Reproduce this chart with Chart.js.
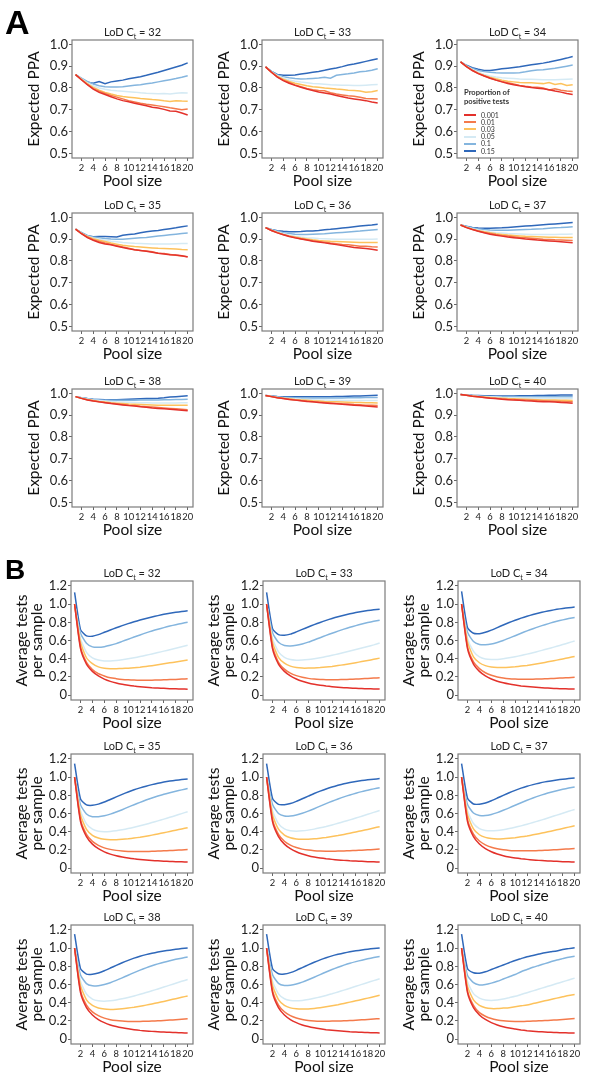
<!DOCTYPE html>
<html><head><meta charset="utf-8">
<script src="https://cdn.jsdelivr.net/npm/chart.js@4.4.0/dist/chart.umd.min.js"></script>
<style>
body{margin:0;background:#fff;width:600px;height:1086px;position:relative;overflow:hidden;font-family:Lato,sans-serif}
.panel{position:absolute}
.ttl{position:absolute;font-size:11px;color:#222;white-space:nowrap;transform:translate(-50%,-50%);line-height:1}
.ttl sub{font-size:7px;vertical-align:-3px;line-height:0}
.big{position:absolute;font-family:'Liberation Sans',Arial,sans-serif;font-weight:bold;color:#000;line-height:1}
.lg{position:absolute;font-size:7px;color:#333;white-space:nowrap;line-height:1}
.lgt{position:absolute;font-size:7.6px;font-weight:bold;color:#333;white-space:nowrap;line-height:9px}
.sw{position:absolute;height:2px}
</style></head><body>
<script>
const poolSizes = [1,2,3,4,5,6,7,8,9,10,11,12,13,14,15,16,17,18,19,20];
const proportions = ['0.001','0.01','0.03','0.05','0.1','0.15'];
const seriesColors = ['#e3312b','#f47a4b','#fdc25c','#d5eaf4','#84b5de','#2f68ba'];
const lodValues = [32,33,34,35,36,37,38,39,40];
const poolTicks = [2,4,6,8,10,12,14,16,18,20];
const ppaTicks = [0.5,0.6,0.7,0.8,0.9,1.0];
const ppaTickLabels = ['0.5','0.6','0.7','0.8','0.9','1.0'];
const testsTicks = [0,0.2,0.4,0.6,0.8,1.0,1.2];
const testsTickLabels = ['0','0.2','0.4','0.6','0.8','1.0','1.2'];

// Expected PPA, series order = proportions
const ppaCt32 = [
 [0.861,0.838,0.815,0.795,0.780,0.770,0.760,0.750,0.742,0.737,0.730,0.724,0.719,0.712,0.708,0.702,0.695,0.693,0.685,0.676],
 [0.861,0.838,0.816,0.797,0.785,0.775,0.766,0.758,0.750,0.742,0.736,0.730,0.725,0.722,0.718,0.714,0.709,0.705,0.700,0.704],
 [0.861,0.840,0.820,0.803,0.790,0.780,0.772,0.766,0.761,0.758,0.755,0.752,0.750,0.747,0.745,0.741,0.738,0.742,0.740,0.739],
 [0.861,0.842,0.824,0.810,0.800,0.794,0.790,0.787,0.785,0.783,0.781,0.778,0.776,0.775,0.774,0.775,0.773,0.776,0.778,0.777],
 [0.861,0.845,0.830,0.818,0.810,0.806,0.804,0.804,0.806,0.809,0.812,0.815,0.819,0.823,0.828,0.833,0.838,0.843,0.849,0.856],
 [0.861,0.843,0.826,0.822,0.830,0.820,0.828,0.832,0.836,0.842,0.847,0.852,0.858,0.865,0.872,0.880,0.888,0.896,0.904,0.915]];
const ppaCt33 = [
 [0.897,0.872,0.850,0.834,0.822,0.812,0.803,0.795,0.788,0.782,0.777,0.772,0.766,0.760,0.754,0.750,0.746,0.742,0.736,0.731],
 [0.897,0.872,0.851,0.836,0.825,0.814,0.806,0.798,0.792,0.788,0.787,0.778,0.772,0.768,0.764,0.762,0.758,0.752,0.751,0.750],
 [0.897,0.873,0.853,0.840,0.830,0.822,0.816,0.810,0.806,0.803,0.800,0.798,0.795,0.793,0.790,0.788,0.786,0.780,0.783,0.788],
 [0.897,0.874,0.856,0.845,0.837,0.831,0.827,0.824,0.821,0.819,0.817,0.815,0.814,0.813,0.812,0.811,0.811,0.813,0.815,0.816],
 [0.897,0.876,0.860,0.852,0.847,0.843,0.841,0.842,0.844,0.846,0.849,0.845,0.858,0.862,0.865,0.869,0.874,0.877,0.881,0.888],
 [0.897,0.876,0.862,0.858,0.858,0.860,0.864,0.868,0.872,0.876,0.881,0.887,0.892,0.898,0.905,0.910,0.916,0.922,0.928,0.934]];
const ppaCt34 = [
 [0.920,0.898,0.880,0.866,0.855,0.845,0.836,0.828,0.821,0.815,0.810,0.806,0.802,0.799,0.796,0.792,0.786,0.781,0.775,0.770],
 [0.920,0.898,0.881,0.867,0.856,0.846,0.837,0.830,0.824,0.818,0.812,0.808,0.805,0.803,0.800,0.791,0.796,0.790,0.786,0.784],
 [0.920,0.899,0.882,0.868,0.857,0.849,0.842,0.836,0.831,0.828,0.825,0.824,0.824,0.822,0.820,0.825,0.816,0.820,0.811,0.815],
 [0.920,0.900,0.885,0.872,0.862,0.855,0.850,0.847,0.845,0.843,0.841,0.840,0.840,0.839,0.838,0.838,0.838,0.839,0.840,0.841],
 [0.920,0.902,0.889,0.880,0.875,0.872,0.870,0.869,0.869,0.869,0.870,0.874,0.879,0.882,0.884,0.887,0.890,0.895,0.900,0.905],
 [0.920,0.904,0.893,0.886,0.880,0.880,0.884,0.888,0.891,0.894,0.897,0.902,0.906,0.910,0.914,0.919,0.925,0.931,0.937,0.944]];
const ppaCt35 = [
 [0.946,0.925,0.907,0.895,0.885,0.878,0.874,0.868,0.862,0.856,0.851,0.848,0.845,0.840,0.835,0.832,0.829,0.827,0.824,0.818],
 [0.946,0.926,0.910,0.898,0.889,0.882,0.876,0.870,0.864,0.859,0.852,0.848,0.846,0.842,0.836,0.834,0.830,0.826,0.823,0.820],
 [0.946,0.927,0.912,0.902,0.895,0.889,0.882,0.877,0.872,0.869,0.866,0.864,0.862,0.860,0.858,0.857,0.856,0.855,0.853,0.852],
 [0.946,0.928,0.914,0.906,0.900,0.895,0.891,0.888,0.885,0.883,0.881,0.880,0.879,0.878,0.878,0.878,0.878,0.879,0.880,0.880],
 [0.946,0.930,0.917,0.910,0.906,0.903,0.901,0.900,0.900,0.902,0.904,0.906,0.908,0.911,0.914,0.917,0.920,0.923,0.926,0.928],
 [0.946,0.930,0.916,0.911,0.912,0.912,0.911,0.910,0.918,0.921,0.924,0.929,0.934,0.937,0.940,0.944,0.948,0.952,0.957,0.961]];
const ppaCt36 = [
 [0.953,0.940,0.929,0.920,0.912,0.906,0.901,0.896,0.891,0.887,0.883,0.879,0.875,0.871,0.866,0.862,0.860,0.857,0.854,0.849],
 [0.953,0.940,0.930,0.921,0.914,0.908,0.902,0.897,0.893,0.889,0.886,0.882,0.879,0.876,0.874,0.871,0.868,0.868,0.865,0.864],
 [0.953,0.941,0.931,0.922,0.915,0.910,0.905,0.901,0.897,0.894,0.892,0.890,0.889,0.888,0.887,0.886,0.885,0.885,0.885,0.885],
 [0.953,0.942,0.933,0.925,0.919,0.914,0.910,0.907,0.905,0.903,0.902,0.901,0.900,0.900,0.900,0.900,0.900,0.900,0.900,0.901],
 [0.953,0.944,0.936,0.930,0.926,0.923,0.922,0.922,0.923,0.924,0.925,0.927,0.929,0.931,0.933,0.935,0.937,0.940,0.942,0.944],
 [0.953,0.945,0.939,0.936,0.934,0.934,0.935,0.937,0.938,0.940,0.943,0.945,0.948,0.951,0.954,0.957,0.960,0.963,0.965,0.968]];
const ppaCt37 = [
 [0.965,0.953,0.944,0.936,0.929,0.923,0.918,0.914,0.910,0.907,0.904,0.901,0.899,0.896,0.894,0.892,0.890,0.888,0.886,0.884],
 [0.965,0.954,0.945,0.937,0.931,0.926,0.921,0.917,0.914,0.911,0.908,0.906,0.904,0.902,0.900,0.899,0.897,0.896,0.895,0.894],
 [0.965,0.955,0.946,0.939,0.934,0.929,0.925,0.922,0.919,0.917,0.915,0.913,0.912,0.911,0.910,0.909,0.909,0.908,0.908,0.908],
 [0.965,0.956,0.948,0.942,0.937,0.933,0.930,0.928,0.926,0.925,0.924,0.923,0.922,0.922,0.922,0.922,0.922,0.923,0.923,0.924],
 [0.965,0.958,0.952,0.947,0.944,0.942,0.941,0.941,0.941,0.942,0.943,0.944,0.945,0.947,0.948,0.950,0.952,0.953,0.955,0.957],
 [0.965,0.959,0.954,0.951,0.950,0.950,0.951,0.952,0.954,0.956,0.958,0.960,0.962,0.964,0.966,0.968,0.970,0.972,0.974,0.976]];
const ppaCt38 = [
 [0.985,0.977,0.970,0.965,0.961,0.957,0.953,0.950,0.947,0.944,0.942,0.939,0.936,0.933,0.931,0.929,0.927,0.925,0.923,0.920],
 [0.985,0.977,0.971,0.966,0.962,0.958,0.955,0.952,0.949,0.946,0.944,0.941,0.939,0.937,0.935,0.933,0.931,0.929,0.927,0.925],
 [0.985,0.978,0.972,0.967,0.963,0.960,0.957,0.955,0.953,0.951,0.950,0.949,0.948,0.947,0.946,0.946,0.945,0.945,0.945,0.945],
 [0.985,0.979,0.974,0.970,0.967,0.965,0.963,0.961,0.960,0.959,0.958,0.957,0.957,0.956,0.956,0.956,0.956,0.956,0.957,0.957],
 [0.985,0.980,0.976,0.973,0.971,0.969,0.968,0.968,0.968,0.968,0.968,0.969,0.969,0.970,0.970,0.971,0.971,0.972,0.972,0.973],
 [0.985,0.980,0.976,0.973,0.972,0.971,0.971,0.971,0.972,0.973,0.974,0.975,0.976,0.977,0.978,0.980,0.983,0.985,0.987,0.989]];
const ppaCt39 = [
 [0.990,0.985,0.980,0.976,0.972,0.969,0.966,0.963,0.961,0.958,0.956,0.954,0.952,0.950,0.948,0.946,0.944,0.942,0.940,0.938],
 [0.990,0.985,0.980,0.976,0.973,0.970,0.967,0.965,0.962,0.960,0.958,0.956,0.954,0.952,0.951,0.949,0.948,0.946,0.945,0.944],
 [0.990,0.986,0.981,0.978,0.975,0.972,0.970,0.968,0.966,0.965,0.963,0.962,0.961,0.960,0.959,0.958,0.958,0.957,0.957,0.956],
 [0.990,0.986,0.982,0.979,0.977,0.975,0.973,0.972,0.971,0.970,0.969,0.968,0.968,0.967,0.967,0.967,0.967,0.967,0.967,0.967],
 [0.990,0.987,0.984,0.982,0.981,0.980,0.979,0.979,0.979,0.979,0.979,0.979,0.979,0.979,0.980,0.980,0.980,0.981,0.981,0.981],
 [0.990,0.988,0.986,0.985,0.984,0.984,0.984,0.984,0.984,0.984,0.985,0.985,0.986,0.986,0.987,0.988,0.988,0.989,0.990,0.991]];
const ppaCt40 = [
 [0.995,0.991,0.987,0.984,0.981,0.978,0.976,0.973,0.971,0.969,0.968,0.966,0.965,0.963,0.962,0.961,0.960,0.958,0.957,0.955],
 [0.995,0.991,0.987,0.984,0.981,0.979,0.977,0.975,0.973,0.972,0.970,0.969,0.968,0.967,0.966,0.965,0.964,0.963,0.962,0.961],
 [0.995,0.991,0.988,0.985,0.983,0.981,0.979,0.978,0.976,0.975,0.974,0.973,0.972,0.971,0.970,0.969,0.969,0.968,0.968,0.967],
 [0.995,0.992,0.989,0.987,0.985,0.984,0.983,0.981,0.980,0.980,0.979,0.978,0.978,0.977,0.977,0.977,0.976,0.976,0.976,0.976],
 [0.995,0.992,0.990,0.988,0.987,0.986,0.985,0.985,0.984,0.984,0.984,0.984,0.984,0.984,0.984,0.984,0.985,0.985,0.985,0.985],
 [0.995,0.993,0.991,0.990,0.989,0.989,0.988,0.988,0.988,0.988,0.989,0.989,0.989,0.990,0.990,0.991,0.991,0.992,0.992,0.993]];

// Average tests per sample, series order = proportions
const testsCt32 = [
 [1.00,0.51,0.34,0.26,0.21,0.175,0.15,0.132,0.118,0.107,0.098,0.091,0.085,0.080,0.077,0.073,0.070,0.068,0.066,0.064],
 [1.00,0.53,0.36,0.28,0.235,0.21,0.19,0.18,0.172,0.167,0.164,0.162,0.162,0.163,0.165,0.167,0.17,0.172,0.175,0.178],
 [1.00,0.58,0.41,0.345,0.31,0.295,0.29,0.29,0.292,0.295,0.30,0.306,0.314,0.323,0.333,0.343,0.354,0.364,0.375,0.386],
 [1.00,0.62,0.47,0.41,0.385,0.375,0.375,0.38,0.388,0.398,0.41,0.423,0.437,0.452,0.467,0.483,0.499,0.515,0.532,0.548],
 [1.00,0.68,0.57,0.53,0.525,0.532,0.547,0.566,0.59,0.614,0.638,0.661,0.684,0.705,0.724,0.742,0.759,0.774,0.788,0.801],
 [1.13,0.72,0.65,0.648,0.665,0.69,0.715,0.74,0.764,0.786,0.806,0.825,0.843,0.859,0.874,0.888,0.899,0.91,0.919,0.927]];
const testsCt33 = [
 [1.00,0.51,0.34,0.26,0.21,0.176,0.151,0.133,0.119,0.108,0.099,0.092,0.086,0.081,0.077,0.074,0.071,0.069,0.067,0.065],
 [1.00,0.53,0.36,0.285,0.24,0.213,0.195,0.183,0.175,0.171,0.169,0.168,0.169,0.171,0.173,0.176,0.179,0.183,0.186,0.189],
 [1.00,0.58,0.415,0.35,0.318,0.302,0.296,0.296,0.298,0.302,0.308,0.315,0.324,0.334,0.345,0.356,0.368,0.38,0.393,0.406],
 [1.00,0.62,0.475,0.415,0.39,0.383,0.384,0.39,0.399,0.41,0.423,0.437,0.452,0.468,0.484,0.50,0.517,0.534,0.552,0.572],
 [1.00,0.685,0.58,0.545,0.54,0.547,0.562,0.582,0.606,0.631,0.656,0.68,0.703,0.725,0.745,0.764,0.781,0.797,0.811,0.824],
 [1.13,0.73,0.665,0.658,0.67,0.695,0.722,0.749,0.775,0.799,0.822,0.843,0.862,0.879,0.894,0.908,0.92,0.93,0.938,0.945]];
const testsCt34 = [
 [1.00,0.51,0.34,0.26,0.21,0.176,0.152,0.134,0.12,0.109,0.10,0.093,0.087,0.082,0.078,0.074,0.071,0.069,0.067,0.065],
 [1.00,0.53,0.365,0.29,0.245,0.217,0.199,0.187,0.179,0.175,0.173,0.173,0.174,0.176,0.178,0.181,0.184,0.188,0.191,0.195],
 [1.00,0.585,0.42,0.355,0.323,0.308,0.303,0.303,0.306,0.311,0.318,0.326,0.336,0.347,0.359,0.371,0.384,0.397,0.411,0.425],
 [1.00,0.625,0.48,0.42,0.396,0.39,0.392,0.399,0.409,0.421,0.435,0.45,0.466,0.483,0.50,0.518,0.536,0.555,0.575,0.595],
 [1.00,0.69,0.59,0.557,0.553,0.561,0.578,0.60,0.626,0.653,0.68,0.706,0.73,0.753,0.774,0.794,0.811,0.827,0.841,0.854],
 [1.14,0.74,0.68,0.675,0.69,0.714,0.742,0.771,0.798,0.823,0.846,0.867,0.886,0.903,0.918,0.931,0.943,0.953,0.961,0.968]];
const testsCt35 = [
 [1.00,0.51,0.345,0.263,0.213,0.178,0.153,0.135,0.121,0.11,0.101,0.094,0.088,0.083,0.079,0.075,0.072,0.07,0.068,0.066],
 [1.00,0.535,0.37,0.293,0.25,0.222,0.205,0.194,0.187,0.183,0.181,0.181,0.182,0.184,0.186,0.189,0.192,0.195,0.199,0.203],
 [1.00,0.585,0.425,0.36,0.33,0.316,0.311,0.312,0.316,0.322,0.33,0.339,0.35,0.362,0.375,0.388,0.402,0.416,0.43,0.444],
 [1.00,0.63,0.485,0.427,0.405,0.40,0.403,0.41,0.421,0.434,0.449,0.465,0.482,0.50,0.519,0.538,0.558,0.578,0.599,0.62],
 [1.00,0.695,0.595,0.565,0.565,0.575,0.593,0.616,0.642,0.67,0.697,0.723,0.748,0.771,0.792,0.812,0.829,0.845,0.86,0.875],
 [1.15,0.76,0.695,0.69,0.703,0.726,0.754,0.783,0.811,0.837,0.861,0.882,0.901,0.918,0.933,0.946,0.957,0.966,0.973,0.979]];
const testsCt36 = [
 [1.00,0.51,0.345,0.263,0.213,0.179,0.154,0.136,0.122,0.111,0.102,0.095,0.089,0.084,0.079,0.076,0.073,0.07,0.068,0.066],
 [1.00,0.535,0.37,0.295,0.252,0.225,0.208,0.197,0.19,0.186,0.185,0.185,0.186,0.188,0.19,0.193,0.196,0.2,0.204,0.208],
 [1.00,0.585,0.427,0.363,0.333,0.32,0.316,0.317,0.321,0.328,0.336,0.346,0.357,0.37,0.383,0.397,0.411,0.425,0.44,0.455],
 [1.00,0.63,0.488,0.43,0.41,0.405,0.409,0.417,0.428,0.442,0.457,0.474,0.492,0.511,0.53,0.55,0.57,0.591,0.612,0.633],
 [1.00,0.70,0.60,0.572,0.572,0.583,0.602,0.626,0.653,0.681,0.709,0.735,0.76,0.783,0.804,0.823,0.841,0.856,0.871,0.884],
 [1.15,0.765,0.70,0.697,0.71,0.734,0.762,0.791,0.82,0.846,0.87,0.891,0.91,0.927,0.941,0.953,0.963,0.971,0.978,0.984]];
const testsCt37 = [
 [1.00,0.51,0.345,0.264,0.214,0.179,0.154,0.136,0.122,0.111,0.102,0.095,0.089,0.084,0.08,0.076,0.073,0.07,0.068,0.066],
 [1.00,0.535,0.372,0.297,0.255,0.228,0.211,0.2,0.193,0.19,0.189,0.189,0.19,0.192,0.195,0.198,0.202,0.206,0.21,0.214],
 [1.00,0.587,0.43,0.366,0.337,0.324,0.32,0.322,0.327,0.334,0.343,0.353,0.365,0.378,0.391,0.405,0.42,0.435,0.45,0.465],
 [1.00,0.632,0.49,0.434,0.413,0.409,0.413,0.422,0.434,0.448,0.464,0.482,0.501,0.52,0.54,0.561,0.582,0.603,0.624,0.645],
 [1.00,0.70,0.605,0.577,0.578,0.59,0.61,0.635,0.662,0.691,0.719,0.746,0.771,0.794,0.815,0.834,0.851,0.866,0.88,0.892],
 [1.15,0.768,0.705,0.702,0.716,0.741,0.77,0.8,0.829,0.855,0.879,0.9,0.918,0.934,0.948,0.959,0.969,0.977,0.984,0.99]];
const testsCt38 = [
 [1.00,0.51,0.345,0.264,0.214,0.18,0.155,0.137,0.123,0.112,0.103,0.095,0.089,0.084,0.08,0.076,0.073,0.071,0.068,0.066],
 [1.00,0.535,0.373,0.299,0.257,0.23,0.213,0.203,0.197,0.194,0.193,0.194,0.195,0.197,0.2,0.204,0.208,0.212,0.217,0.222],
 [1.00,0.588,0.432,0.369,0.341,0.329,0.326,0.328,0.333,0.341,0.35,0.361,0.373,0.386,0.4,0.414,0.429,0.444,0.459,0.474],
 [1.00,0.635,0.495,0.44,0.42,0.416,0.421,0.43,0.442,0.457,0.474,0.492,0.511,0.531,0.551,0.572,0.593,0.614,0.635,0.655],
 [1.00,0.705,0.61,0.585,0.587,0.6,0.62,0.645,0.673,0.702,0.731,0.758,0.783,0.806,0.827,0.846,0.862,0.877,0.89,0.902],
 [1.155,0.775,0.715,0.713,0.727,0.752,0.781,0.811,0.84,0.866,0.89,0.911,0.929,0.944,0.957,0.968,0.978,0.987,0.995,1.002]];
const testsCt39 = [
 [1.00,0.51,0.345,0.264,0.214,0.18,0.155,0.137,0.123,0.112,0.103,0.096,0.09,0.085,0.08,0.077,0.074,0.071,0.069,0.067],
 [1.00,0.535,0.374,0.3,0.258,0.232,0.215,0.205,0.199,0.196,0.196,0.197,0.198,0.2,0.203,0.207,0.211,0.215,0.22,0.224],
 [1.00,0.59,0.434,0.371,0.343,0.332,0.329,0.331,0.337,0.345,0.355,0.366,0.378,0.392,0.406,0.42,0.435,0.45,0.466,0.481],
 [1.00,0.637,0.497,0.443,0.424,0.42,0.425,0.435,0.448,0.463,0.48,0.498,0.518,0.538,0.559,0.58,0.601,0.622,0.643,0.663],
 [1.00,0.707,0.613,0.589,0.592,0.605,0.626,0.652,0.68,0.709,0.738,0.765,0.79,0.813,0.834,0.852,0.868,0.883,0.896,0.907],
 [1.155,0.775,0.718,0.716,0.731,0.756,0.786,0.816,0.845,0.871,0.894,0.915,0.932,0.947,0.96,0.971,0.98,0.989,0.996,1.003]];
const testsCt40 = [
 [1.00,0.51,0.345,0.265,0.215,0.18,0.155,0.135,0.12,0.11,0.10,0.092,0.086,0.081,0.077,0.074,0.071,0.069,0.067,0.066],
 [1.00,0.53,0.37,0.29,0.25,0.225,0.21,0.20,0.195,0.193,0.193,0.195,0.197,0.20,0.203,0.207,0.21,0.215,0.22,0.225],
 [1.00,0.58,0.43,0.37,0.345,0.335,0.335,0.34,0.345,0.355,0.365,0.375,0.39,0.405,0.42,0.435,0.45,0.465,0.48,0.49],
 [1.00,0.63,0.50,0.45,0.43,0.425,0.43,0.44,0.455,0.47,0.49,0.51,0.53,0.55,0.57,0.59,0.61,0.63,0.65,0.67],
 [1.00,0.70,0.62,0.595,0.60,0.615,0.635,0.66,0.685,0.71,0.74,0.765,0.79,0.81,0.83,0.85,0.87,0.885,0.90,0.91],
 [1.155,0.775,0.73,0.725,0.74,0.765,0.79,0.815,0.84,0.865,0.885,0.905,0.92,0.935,0.95,0.96,0.97,0.985,0.995,1.005]];

const ppaPanels = [ppaCt32,ppaCt33,ppaCt34,ppaCt35,ppaCt36,ppaCt37,ppaCt38,ppaCt39,ppaCt40];
const testsPanels = [testsCt32,testsCt33,testsCt34,testsCt35,testsCt36,testsCt37,testsCt38,testsCt39,testsCt40];

const FF = 'Lato, "Open Sans", sans-serif';
const L = 70, T = 14, R = 10, B = 32;

const frame = {id:'frame', afterDatasetsDraw(chart){
  const {ctx, chartArea:a} = chart;
  ctx.save(); ctx.strokeStyle = '#7c7c7c'; ctx.lineWidth = 1.2;
  ctx.strokeRect(a.left, a.top, a.right - a.left, a.bottom - a.top); ctx.restore();
}};

function addDiv(cls, html, css){
  const d = document.createElement('div'); d.className = cls; d.innerHTML = html;
  Object.assign(d.style, css); document.body.appendChild(d); return d;
}

function makePanel(x0, y0, w, h, series, cfg, lod){
  const wrap = document.createElement('div'); wrap.className = 'panel';
  wrap.style.left = (x0 - L) + 'px'; wrap.style.top = (y0 - T) + 'px';
  const cv = document.createElement('canvas');
  cv.width = w + L + R; cv.height = h + T + B;
  cv.style.width = cv.width + 'px'; cv.style.height = cv.height + 'px';
  wrap.appendChild(cv); document.body.appendChild(wrap);
  addDiv('ttl', 'LoD C<sub>t</sub> = ' + lod, {left:(x0 + w/2) + 'px', top:(y0 - 9) + 'px'});
  new Chart(cv, {
    type:'line',
    data:{datasets: series.map((vals, i) => ({
      label: proportions[i],
      data: poolSizes.map((p, j) => ({x:p, y:vals[j]})),
      borderColor: seriesColors[i], borderWidth: 1.5, pointRadius: 0,
      tension: cfg.tension, fill: false}))},
    options:{
      responsive:false, animation:false, devicePixelRatio:1,
      layout:{padding:{top:T, right:R, left:0, bottom:0}},
      plugins:{legend:{display:false}, tooltip:{enabled:false}},
      scales:{
        x:{type:'linear', min:0.4, max:20.9,
          afterBuildTicks: s => { s.ticks = poolTicks.map(v => ({value:v})); },
          afterFit: s => { s.height = B; },
          ticks:{autoSkip:false, maxRotation:0, minRotation:0, padding:1,
            font:{family:FF, size:9.4}, color:'#222', callback: v => String(v)},
          grid:{drawOnChartArea:false, drawTicks:true, tickLength:3, color:'#666'},
          border:{display:false},
          title:{display:true, text:'Pool size', font:{family:FF, size:15.5, lineHeight:1.2}, color:'#111', padding:{top:0, bottom:0}}},
        y:{min:cfg.min, max:cfg.max,
          afterBuildTicks: s => { s.ticks = cfg.ticks.map(v => ({value:v})); },
          afterFit: s => { s.width = L; },
          ticks:{padding:1, font:{family:FF, size:13}, color:'#222', callback: (v, i) => cfg.labels[i]},
          grid:{drawOnChartArea:false, drawTicks:true, tickLength:3, color:'#666'},
          border:{display:false},
          title:{display:true, text:cfg.title, font:{family:FF, size:15.5, lineHeight:cfg.lh}, color:'#111', padding:{top:cfg.tpad, bottom:0}}}
      }
    },
    plugins:[frame]
  });
}

const colA = [72, 262, 457];
const rowA = [40, 213, 389];
const colB = [71, 263, 458];
const rowB = [581, 754, 925];

const ppaCfg = {min:0.479, max:1.020, ticks:ppaTicks, labels:ppaTickLabels, title:'Expected PPA', lh:1.2, tpad:23, tension:0};
const testsCfg = {min:-0.055, max:1.255, ticks:testsTicks, labels:testsTickLabels, title:['Average tests','per sample'], lh:1.0, tpad:13, tension:0.2};

ppaPanels.forEach((s, k) => makePanel(colA[k % 3], rowA[Math.floor(k / 3)], 121, 118, s, ppaCfg, lodValues[k]));
testsPanels.forEach((s, k) => makePanel(colB[k % 3], rowB[Math.floor(k / 3)], 122, 119, s, testsCfg, lodValues[k]));

// panel letters
addDiv('big', 'A', {left:'5px', top:'5px', fontSize:'34px'});
addDiv('big', 'B', {left:'5px', top:'556px', fontSize:'28px'});

// legend inside LoD Ct = 34 panel
addDiv('lgt', 'Proportion of<br>positive tests', {left:'464px', top:'88px'});
proportions.forEach((p, i) => {
  const y = 115 + i * 7.2;
  addDiv('sw', '', {left:'464px', top:(y - 1) + 'px', width:'12px', background:seriesColors[i]});
  addDiv('lg', p, {left:'481px', top:(y - 3.5) + 'px'});
});
</script>
</body></html>
